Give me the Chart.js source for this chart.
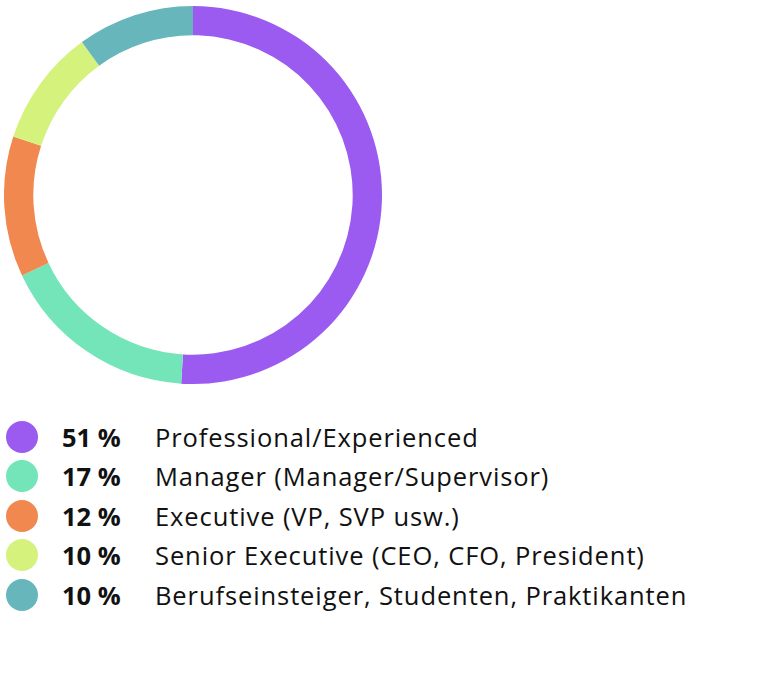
<!DOCTYPE html>
<html lang="en">
<head>
<meta charset="UTF-8">
<title>Doughnut</title>
<script src="https://cdn.jsdelivr.net/npm/chart.js"></script>
<style>
  body { margin: 0; background: #fff; font-family: "Open Sans", sans-serif; }
  #wrap { position: absolute; left: 4px; top: 6px; width: 378px; height: 378px; }
  #legend { position: absolute; left: 6px; top: 417px; list-style: none; margin: 0; padding: 0; }
  #legend li { display: flex; align-items: center; height: 39.5px; font-size: 25.5px; letter-spacing: 0.9px; color: #111; }
  #legend .dot { width: 32px; height: 32px; border-radius: 50%; margin-right: 24px; }
  #legend .pct { font-weight: 700; width: 93px; letter-spacing: 0; }
</style>
</head>
<body>
<div id="wrap"><canvas id="chart"></canvas></div>
<ul id="legend"></ul>
<script>
  const labels = [
    "Professional/Experienced",
    "Manager (Manager/Supervisor)",
    "Executive (VP, SVP usw.)",
    "Senior Executive (CEO, CFO, President)",
    "Berufseinsteiger, Studenten, Praktikanten"
  ];
  const values = [51, 17, 12, 10, 10];
  const colors = ["#9b5bf0", "#74e4b9", "#f0884f", "#d5f27d", "#66b6bb"];

  new Chart(document.getElementById("chart"), {
    type: "doughnut",
    data: { labels: labels, datasets: [{ data: values, backgroundColor: colors, borderWidth: 0 }] },
    options: {
      responsive: true,
      maintainAspectRatio: false,
      animation: false,
      cutout: "84.5%",
      plugins: { legend: { display: false }, tooltip: { enabled: false } }
    }
  });

  const ul = document.getElementById("legend");
  labels.forEach((l, i) => {
    const li = document.createElement("li");
    li.innerHTML = `<span class="dot" style="background:${colors[i]}"></span><span class="pct">${values[i]} %</span><span>${l}</span>`;
    ul.appendChild(li);
  });
</script>
</body>
</html>
